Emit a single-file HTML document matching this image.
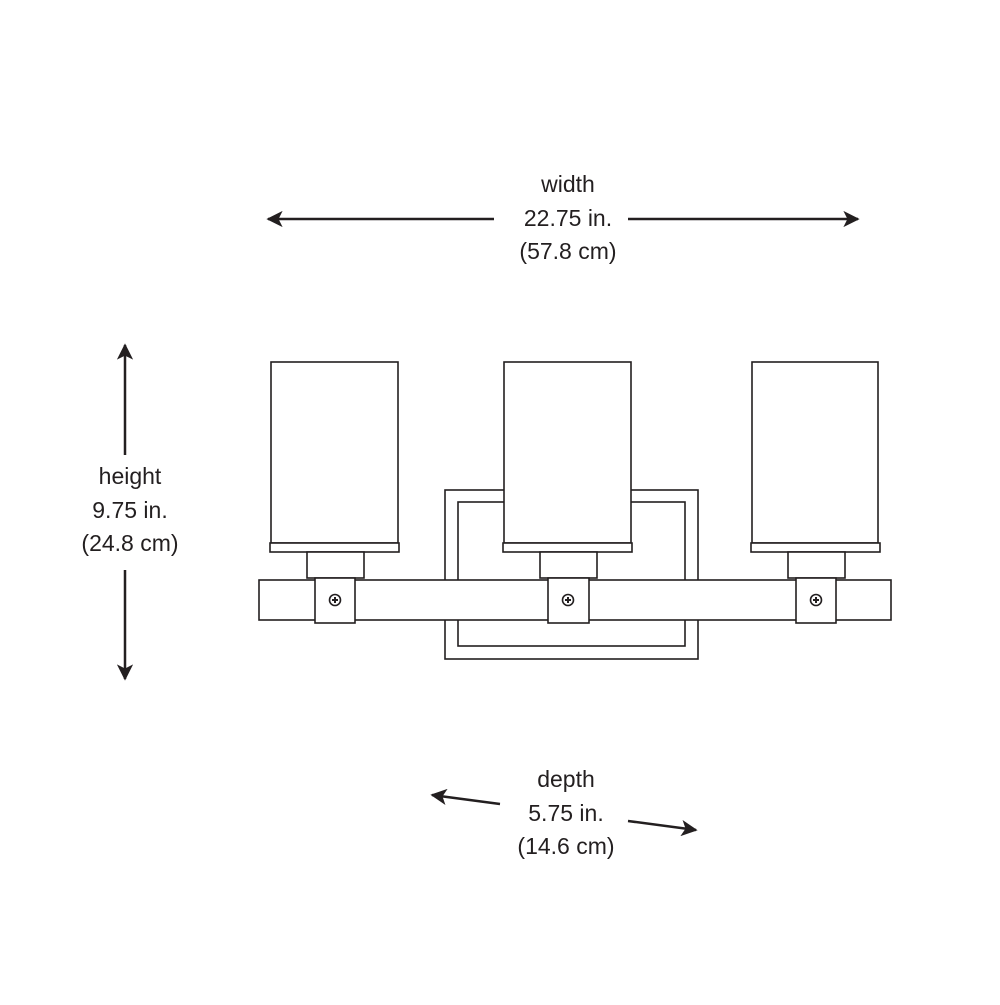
<!DOCTYPE html>
<html><head><style>
body{margin:0;background:#fff}
.t{font-family:"Liberation Sans",sans-serif;font-size:23px;fill:#231f20;text-anchor:middle}
</style></head><body>
<svg width="1000" height="1000" viewBox="0 0 1000 1000" xmlns="http://www.w3.org/2000/svg">
<defs><marker id="a" viewBox="0 0 10 10" refX="9" refY="5" markerWidth="6.5" markerHeight="6.5" orient="auto-start-reverse"><path d="M0,0L10,5L0,10L2.5,5z" fill="#231f20"/></marker></defs>
<g stroke="#231f20" stroke-width="2.5" fill="none">
<line x1="268" y1="219" x2="494" y2="219" marker-start="url(#a)"/>
<line x1="628" y1="219" x2="858" y2="219" marker-end="url(#a)"/>
<line x1="125" y1="345" x2="125" y2="455" marker-start="url(#a)"/>
<line x1="125" y1="570" x2="125" y2="679" marker-end="url(#a)"/>
<line x1="500" y1="804" x2="432" y2="795" marker-end="url(#a)"/>
<line x1="628" y1="821" x2="696" y2="830" marker-end="url(#a)"/>
</g>
<text class="t" x="568" y="192">width</text>
<text class="t" x="568" y="226">22.75 in.</text>
<text class="t" x="568" y="259">(57.8 cm)</text>
<text class="t" x="130" y="484">height</text>
<text class="t" x="130" y="518">9.75 in.</text>
<text class="t" x="130" y="551">(24.8 cm)</text>
<text class="t" x="566" y="787">depth</text>
<text class="t" x="566" y="821">5.75 in.</text>
<text class="t" x="566" y="854">(14.6 cm)</text>
<g stroke="#231f20" stroke-width="1.6" fill="#fff">
<rect x="445" y="490" width="253" height="169"/>
<rect x="458" y="502" width="227" height="144"/>
<rect x="259" y="580" width="632" height="40"/>
<rect x="271" y="362" width="127" height="181"/>
<rect x="270" y="543" width="129" height="9"/>
<rect x="307" y="552" width="57" height="26"/>
<rect x="315" y="578" width="40" height="45"/>
<circle cx="335" cy="600" r="5.5"/>
<rect x="504" y="362" width="127" height="181"/>
<rect x="503" y="543" width="129" height="9"/>
<rect x="540" y="552" width="57" height="26"/>
<rect x="548" y="578" width="41" height="45"/>
<circle cx="568" cy="600" r="5.5"/>
<rect x="752" y="362" width="126" height="181"/>
<rect x="751" y="543" width="129" height="9"/>
<rect x="788" y="552" width="57" height="26"/>
<rect x="796" y="578" width="40" height="45"/>
<circle cx="816" cy="600" r="5.5"/>
</g>
<g stroke="#231f20" stroke-width="2">
<path d="M332,600h6M335,597v6M565,600h6M568,597v6M813,600h6M816,597v6"/>
</g>
</svg>
</body></html>
